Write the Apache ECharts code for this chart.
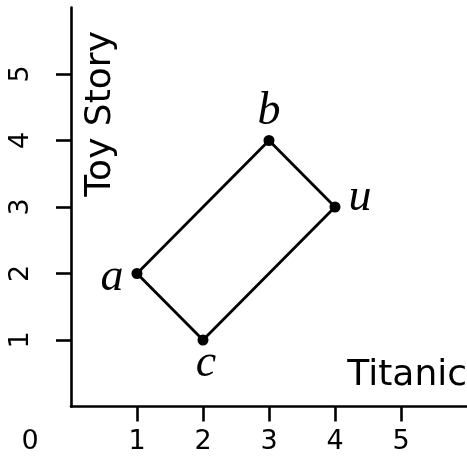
<!doctype html>
<html lang="en">
  <head>
    <meta charset="utf-8">
    <script src="https://cdn.jsdelivr.net/npm/echarts@6/dist/echarts.min.js"></script>
    <title>Titanic vs Toy Story</title>
    <style>
      html, body { margin: 0; padding: 0; background: #fff; }
      #container { width: 467px; height: 456px; }
    </style>
  </head>
  <body>
    <div id="container"></div>
    <script type="text/javascript">
      // points of the rectangle, in drawing order
      var names = ['a', 'b', 'u', 'c'];
      var titanic = [1, 3, 4, 2];
      var toyStory = [2, 4, 3, 1];
      var tickValues = [1, 2, 3, 4, 5];
      var xName = 'Titanic';
      var yName = 'Toy Story';

      // where each letter sits around its dot
      var labelSpot = {
        a: {position: 'left', distance: 8, offset: [0, 4]},
        b: {position: 'top', distance: 0, offset: [0, 0]},
        u: {position: 'right', distance: 8, offset: [0, -9]},
        c: {position: 'bottom', distance: -5, offset: [3, 0]}
      };

      var pts = names.map(function (n, i) { return [titanic[i], toyStory[i]]; });
      var loop = pts.concat([pts[0]]);

      var scatterData = names.map(function (n, i) {
        var s = labelSpot[n];
        return {
          name: n,
          value: pts[i],
          label: {position: s.position, distance: s.distance, offset: s.offset}
        };
      });

      var dom = document.getElementById('container');
      var myChart = echarts.init(dom);

      var axisCommon = {
        type: 'value', min: 0, max: 6, interval: 1,
        splitLine: {show: false},
        axisLine: {show: true, onZero: false, lineStyle: {color: '#000', width: 2.6}},
        axisTick: {show: true, customValues: tickValues, length: 15, lineStyle: {color: '#000', width: 2.6}}
      };

      var option = {
        backgroundColor: '#fff',
        animation: false,
        grid: {left: 71, top: 7.5, right: 0, bottom: 49.5, containLabel: false},
        xAxis: Object.assign({}, axisCommon, {
          axisLabel: {customValues: tickValues, margin: 22, fontSize: 27, fontFamily: 'DejaVu Sans', color: '#000'}
        }),
        yAxis: Object.assign({}, axisCommon, {
          axisLabel: {customValues: tickValues, rotate: 90, margin: 37, fontSize: 27, fontFamily: 'DejaVu Sans', color: '#000'}
        }),
        series: [{
          type: 'line',
          data: loop,
          showSymbol: false,
          lineStyle: {color: '#000', width: 2.8, opacity: 1},
          z: 2
        }, {
          type: 'scatter',
          data: scatterData,
          symbolSize: 11,
          itemStyle: {color: '#000', opacity: 1},
          label: {
            show: true,
            formatter: '{b}',
            fontFamily: 'Liberation Serif',
            fontStyle: 'italic',
            fontSize: 46,
            color: '#000',
            opacity: 1
          },
          z: 3
        }]
      };

      myChart.setOption(option);

      // axis names and the lone corner "0"
      var zero = myChart.convertToPixel({gridIndex: 0}, [-0.62, -0.53]);
      var yNamePos = myChart.convertToPixel({gridIndex: 0}, [0.45, 4.4]);
      var xNamePos = myChart.convertToPixel({gridIndex: 0}, [6, 0.47]);

      myChart.setOption({
        graphic: [{
          type: 'text', x: zero[0], y: zero[1],
          style: {text: '0', fontSize: 27, fontFamily: 'DejaVu Sans', fill: '#000',
                  align: 'center', verticalAlign: 'middle', textAlign: 'center', textVerticalAlign: 'middle'}
        }, {
          type: 'text', x: yNamePos[0], y: yNamePos[1], rotation: Math.PI / 2,
          style: {text: yName, fontSize: 36, fontFamily: 'DejaVu Sans', fill: '#000',
                  align: 'center', verticalAlign: 'middle', textAlign: 'center', textVerticalAlign: 'middle'}
        }, {
          type: 'text', x: xNamePos[0], y: xNamePos[1],
          style: {text: xName, fontSize: 36, fontFamily: 'DejaVu Sans', fill: '#000',
                  align: 'right', verticalAlign: 'middle', textAlign: 'right', textVerticalAlign: 'middle'}
        }]
      });
    </script>
  </body>
</html>
